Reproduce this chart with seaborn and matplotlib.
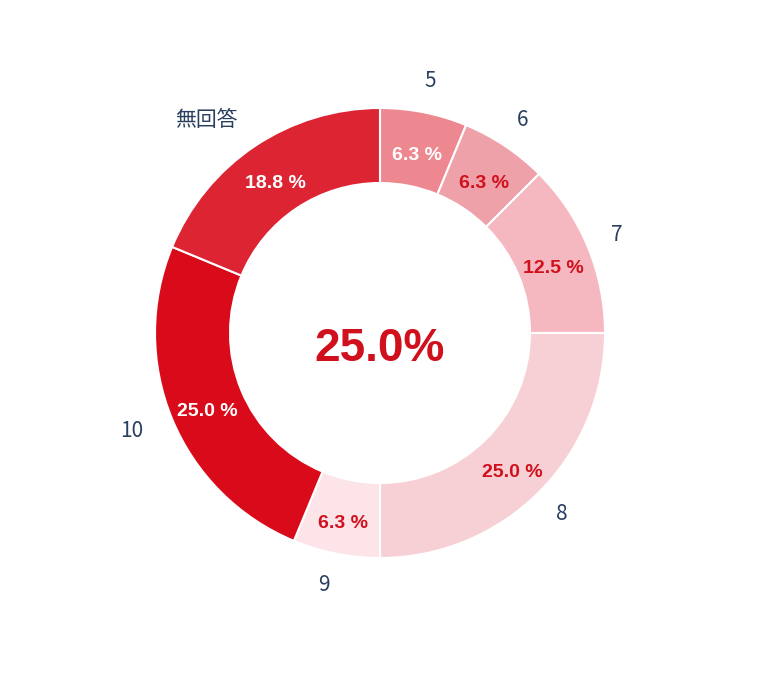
import matplotlib
matplotlib.use("Agg")
import matplotlib.pyplot as plt
import seaborn as sns

# Step 1: Data (answer counts per score)
categories = ['5', '6', '7', '8', '9', '10', '無回答']
counts = [1, 1, 2, 4, 1, 4, 3]
pct_labels = ['6.3 %', '6.3 %', '12.5 %', '25.0 %', '6.3 %', '25.0 %', '18.8 %']
center_label = '25.0%'

colors = ['#ee8890', '#eea1a9', '#f6b8c0', '#f7d0d5', '#fce4e8', '#d90b1a', '#dc2433']
pct_colors = ['white', '#d0101c', '#d0101c', '#d0101c', '#d0101c', 'white', 'white']

# Step 2: Style
sns.set_theme(style="white")
plt.rcParams['font.family'] = ['Noto Sans CJK JP', 'DejaVu Sans']

fig = plt.figure(figsize=(7.66, 6.88), dpi=100)
# axes placed so that the donut centre sits at (380, 333) px and radius 1 = 225 px
ax = fig.add_axes([(380 - 337.5) / 766, (688 - 333 - 337.5) / 688, 675 / 766, 675 / 688])

wedges, texts, autotexts = ax.pie(
    counts,
    labels=categories,
    colors=colors,
    startangle=90,
    counterclock=False,
    labeldistance=1.14,
    autopct='%1.1f',
    pctdistance=0.833,
    wedgeprops=dict(width=1/3, edgecolor='white', linewidth=1.5),
    textprops=dict(color='#2a3f5f', fontsize=15),
)

# outer labels: centred on the right side, right-aligned on the left
for t in texts:
    x, y = t.get_position()
    t.set_ha('right' if x < 0 else 'center')

for t, lab, c in zip(autotexts, pct_labels, pct_colors):
    x, y = t.get_position()
    t.set_position((x, y - 0.03))
    t.set_text(lab)
    t.set_color(c)
    t.set_fontsize(14)
    t.set_fontweight('bold')
    t.set_family(['Liberation Sans', 'DejaVu Sans'])

ax.text(0, -0.07, center_label, ha='center', va='center', fontsize=33,
        fontweight='bold', color='#d0101c', family=['Liberation Sans', 'DejaVu Sans'])

ax.set_xlim(-1.5, 1.5)
ax.set_ylim(-1.5, 1.5)
ax.set_aspect('equal')
ax.axis('off')

plt.savefig('out.png', dpi=100, facecolor='white')
